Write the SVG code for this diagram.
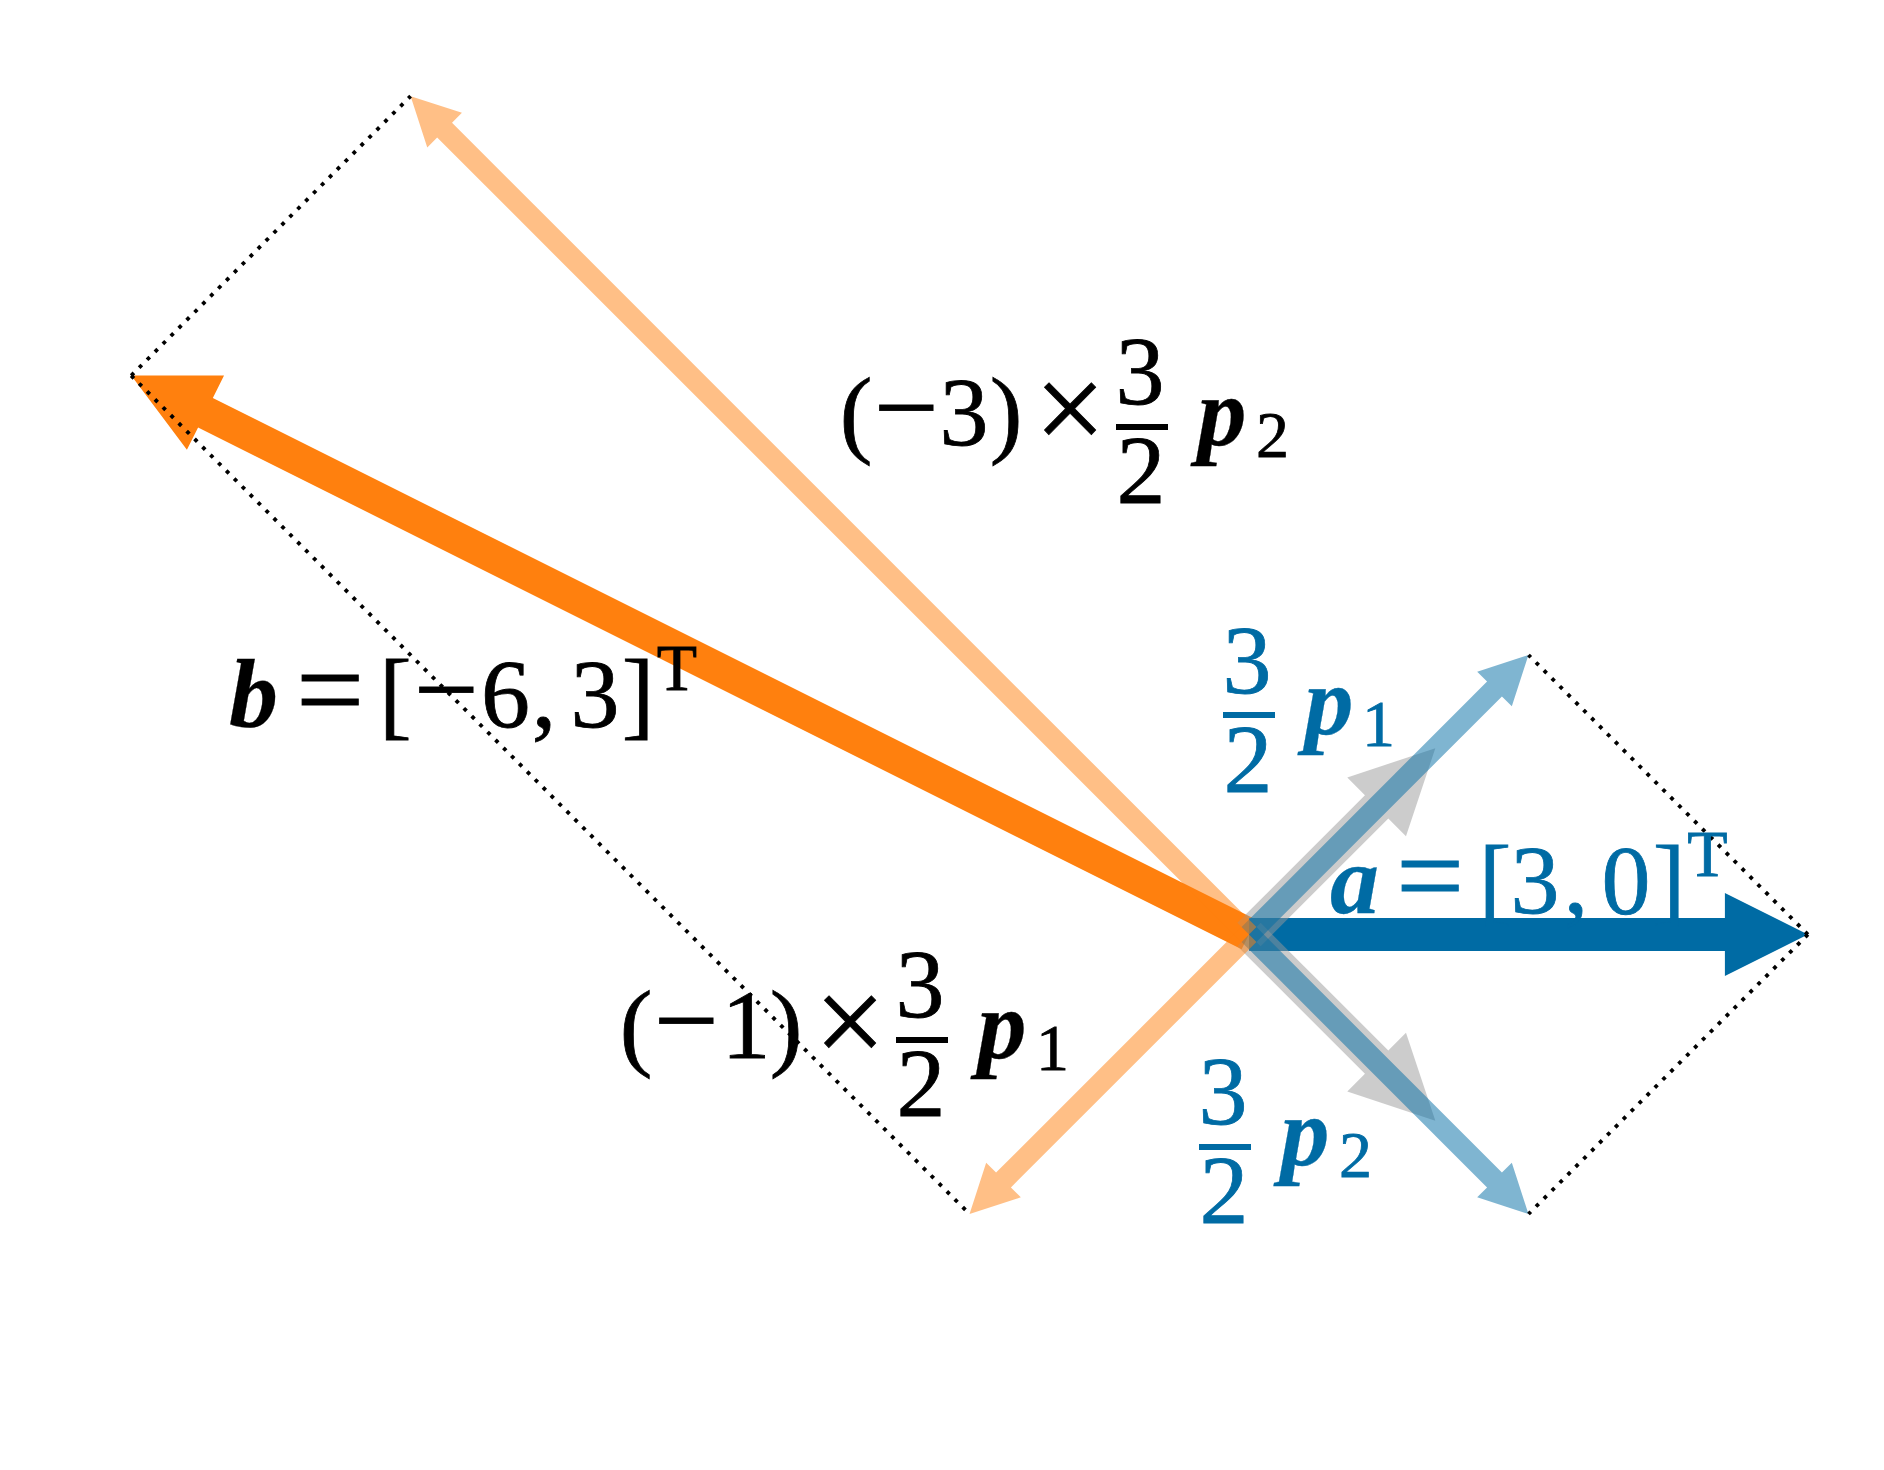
<svg xmlns="http://www.w3.org/2000/svg" width="1884" height="1470" viewBox="0 0 1884 1470">
<style>
.t{font-family:"Liberation Serif","Times New Roman",serif;font-size:98px;text-anchor:middle}
.bi{font-weight:bold;font-style:italic}
.s{font-size:66px}
.mi{font-size:115px}
.x{font-size:126px}
.eq{font-size:121px}
.k{fill:#000000}
.bl{fill:#006BA4}
.k text{stroke:#000000;stroke-width:0.8}
.bl text{stroke:#006BA4;stroke-width:0.8}
.k text.bi,.bl text.bi{stroke-width:0.3}
.dot{fill:none;stroke:#000000;stroke-width:3.8;stroke-dasharray:3.8 7.4}
</style>
<rect x="0" y="0" width="1884" height="1470" fill="#ffffff"/>

<g id="vec-b" transform="translate(1249,934.5) rotate(206.565)">
<polygon fill="#FF800E" points="0,-16.5 1166.7,-16.5 1166.7,-41.5 1249.7,0 1166.7,41.5 1166.7,16.5 0,16.5"/>
</g>
<g id="vec-a" transform="translate(1249,934.5)">
<polygon fill="#006BA4" points="0,-16.5 475.9,-16.5 475.9,-41.5 558.9,0 475.9,41.5 475.9,16.5 0,16.5"/>
</g>
<g id="vec-p1" transform="translate(1249,934.5) rotate(-45)">
<polygon fill="#999999" fill-opacity="0.5" points="0,-16.5 180.5,-16.5 180.5,-41.5 263.5,0 180.5,41.5 180.5,16.5 0,16.5"/>
</g>
<g id="vec-p2" transform="translate(1249,934.5) rotate(45)">
<polygon fill="#999999" fill-opacity="0.5" points="0,-16.5 180.5,-16.5 180.5,-41.5 263.5,0 180.5,41.5 180.5,16.5 0,16.5"/>
</g>
<g id="vec-32p1" transform="translate(1249,934.5) rotate(-45)">
<polygon fill="#006BA4" fill-opacity="0.5" points="0,-10.5 347.2,-10.5 347.2,-24.5 395.2,0 347.2,24.5 347.2,10.5 0,10.5"/>
</g>
<g id="vec-32p2" transform="translate(1249,934.5) rotate(45)">
<polygon fill="#006BA4" fill-opacity="0.5" points="0,-10.5 347.2,-10.5 347.2,-24.5 395.2,0 347.2,24.5 347.2,10.5 0,10.5"/>
</g>
<g id="vec-m3p2" transform="translate(1249,934.5) rotate(225)">
<polygon fill="#FF800E" fill-opacity="0.5" points="0,-10.5 1137.6,-10.5 1137.6,-24.5 1185.6,0 1137.6,24.5 1137.6,10.5 0,10.5"/>
</g>
<g id="vec-m1p1" transform="translate(1249,934.5) rotate(135)">
<polygon fill="#FF800E" fill-opacity="0.5" points="0,-10.5 347.2,-10.5 347.2,-24.5 395.2,0 347.2,24.5 347.2,10.5 0,10.5"/>
</g>

<g id="connectors">
<line class="dot" x1="1807.9" y1="934.5" x2="1528.5" y2="655"/>
<line class="dot" x1="1807.9" y1="934.5" x2="1528.5" y2="1214"/>
<line class="dot" x1="131.2" y1="375.6" x2="410.6" y2="96.1"/>
<line class="dot" x1="131.2" y1="375.6" x2="969.5" y2="1214"/>
</g>

<g id="label-m3p2" class="k">
<text class="t" x="856" y="445">(</text>
<text class="t mi" x="906.5" y="446">−</text>
<text class="t" x="964" y="445">3</text>
<text class="t" x="1006" y="445">)</text>
<text class="t x" x="1070" y="451">×</text>
<text class="t" x="1140" y="404">3</text>
<rect x="1116" y="424" width="52" height="6"/>
<text class="t" x="1141" y="503">2</text>
<text class="t bi" x="1222" y="445">p</text>
<text class="t s" x="1272.5" y="457">2</text>
</g>

<g id="label-m1p1" class="k">
<text class="t" x="636" y="1058">(</text>
<text class="t mi" x="686.5" y="1059">−</text>
<text class="t" x="746" y="1058">1</text>
<text class="t" x="786" y="1058">)</text>
<text class="t x" x="850" y="1064">×</text>
<text class="t" x="920" y="1017">3</text>
<rect x="896" y="1037" width="52" height="6"/>
<text class="t" x="921" y="1116">2</text>
<text class="t bi" x="1002" y="1058">p</text>
<text class="t s" x="1052.5" y="1070">1</text>
</g>

<g id="label-b" class="k">
<text class="t bi" x="253.5" y="727">b</text>
<text class="t eq" x="330" y="730">=</text>
<text class="t" x="395.4" y="727">[</text>
<text class="t mi" x="446.5" y="728">−</text>
<text class="t" x="505.5" y="727">6</text>
<text class="t" x="544" y="727">,</text>
<text class="t" x="595" y="727">3</text>
<text class="t" x="638" y="727">]</text>
<text class="t s" x="677" y="690">T</text>
</g>

<g id="label-a" class="bl">
<text class="t bi" x="1354.5" y="913">a</text>
<text class="t eq" x="1430" y="916">=</text>
<text class="t" x="1495" y="913">[</text>
<text class="t" x="1535" y="913">3</text>
<text class="t" x="1576" y="913">,</text>
<text class="t" x="1626" y="913">0</text>
<text class="t" x="1669" y="913">]</text>
<text class="t s" x="1707.5" y="876">T</text>
</g>

<g id="label-32p1" class="bl">
<text class="t" x="1247" y="693">3</text>
<rect x="1223" y="712" width="52" height="6"/>
<text class="t" x="1248" y="792">2</text>
<text class="t bi" x="1329" y="734">p</text>
<text class="t s" x="1378.5" y="746">1</text>
</g>

<g id="label-32p2" class="bl">
<text class="t" x="1223" y="1124">3</text>
<rect x="1199" y="1144" width="52" height="6"/>
<text class="t" x="1224" y="1223">2</text>
<text class="t bi" x="1305" y="1165">p</text>
<text class="t s" x="1355.5" y="1177">2</text>
</g>
</svg>
